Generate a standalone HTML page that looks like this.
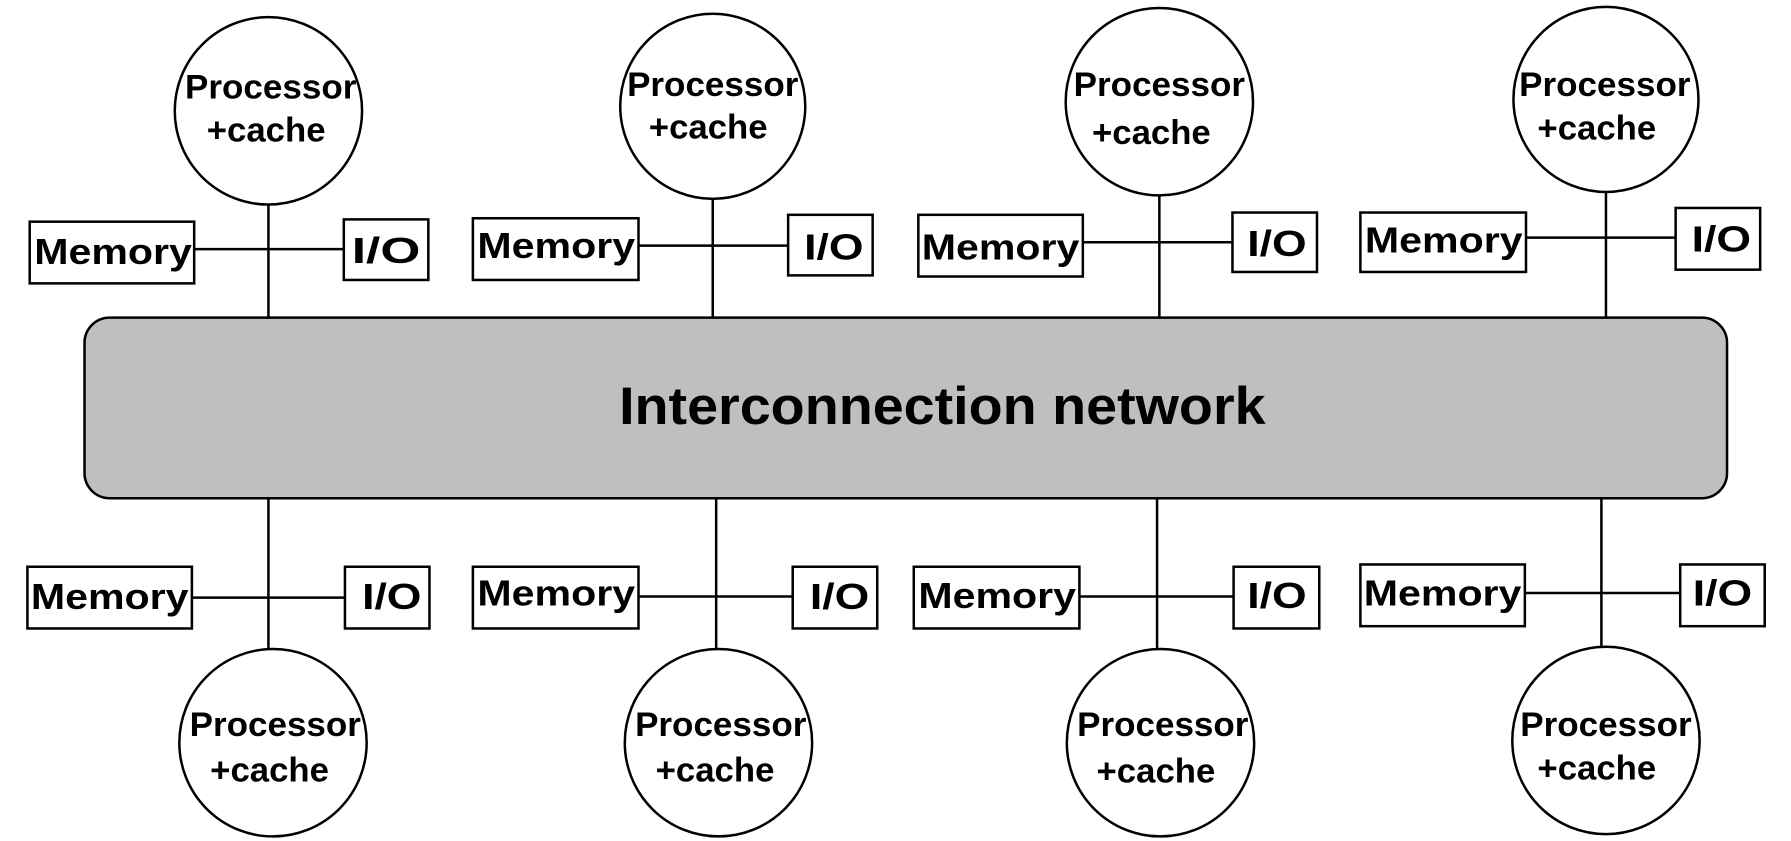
<!DOCTYPE html>
<html><head><meta charset="utf-8">
<style>
html,body{margin:0;padding:0;background:#fff;}
svg{display:block;}
text{font-family:"Liberation Sans",Arial,sans-serif;font-weight:bold;fill:#000;}
</style></head>
<body>
<svg width="1791" height="841" viewBox="0 0 1568 736" preserveAspectRatio="none" xmlns="http://www.w3.org/2000/svg">
<g stroke="#000" stroke-width="2.2" fill="none">
<!-- top verticals -->
<line x1="235" y1="179" x2="235" y2="278"/>
<line x1="624" y1="174" x2="624" y2="278"/>
<line x1="1015" y1="171" x2="1015" y2="278"/>
<line x1="1406" y1="168" x2="1406" y2="278"/>
<!-- top horizontals -->
<line x1="170" y1="218" x2="301" y2="218"/>
<line x1="559" y1="215" x2="690" y2="215"/>
<line x1="948" y1="212" x2="1079" y2="212"/>
<line x1="1336" y1="208" x2="1467" y2="208"/>
<!-- bottom verticals -->
<line x1="235" y1="436" x2="235" y2="568"/>
<line x1="627" y1="436" x2="627" y2="568"/>
<line x1="1013" y1="436" x2="1013" y2="568"/>
<line x1="1402" y1="436" x2="1402" y2="566"/>
<!-- bottom horizontals -->
<line x1="168" y1="523" x2="302" y2="523"/>
<line x1="559" y1="522" x2="694" y2="522"/>
<line x1="945" y1="522" x2="1080" y2="522"/>
<line x1="1335" y1="519" x2="1471" y2="519"/>
</g>
<rect x="74" y="278" width="1438" height="158" rx="22" ry="22" fill="#bfbfbf" stroke="#000" stroke-width="2.2"/>
<text x="825" y="371" font-size="46" text-anchor="middle" textLength="566" lengthAdjust="spacingAndGlyphs">Interconnection network</text>

<g fill="#fff" stroke="#000" stroke-width="2.2">
<circle cx="235" cy="97" r="82"/>
<circle cx="624" cy="93" r="81"/>
<circle cx="1015" cy="89" r="82"/>
<circle cx="1406" cy="87" r="81"/>
<circle cx="239" cy="650" r="82"/>
<circle cx="629" cy="650" r="82"/>
<circle cx="1016" cy="650" r="82"/>
<circle cx="1406" cy="648" r="82"/>
<rect x="26" y="194" width="144" height="54"/>
<rect x="301" y="192" width="74" height="53"/>
<rect x="414" y="191" width="145" height="54"/>
<rect x="690" y="188" width="74" height="53"/>
<rect x="804" y="188" width="144" height="54"/>
<rect x="1079" y="186" width="74" height="52"/>
<rect x="1191" y="186" width="145" height="52"/>
<rect x="1467" y="182" width="74" height="54"/>
<rect x="24" y="496" width="144" height="54"/>
<rect x="302" y="496" width="74" height="54"/>
<rect x="414" y="496" width="145" height="54"/>
<rect x="694" y="496" width="74" height="54"/>
<rect x="800" y="496" width="145" height="54"/>
<rect x="1080" y="496" width="75" height="54"/>
<rect x="1191" y="494" width="144" height="54"/>
<rect x="1471" y="494" width="74" height="54"/>
</g>

<g font-size="30" text-anchor="middle">
<!-- top processors -->
<text x="237" y="86" textLength="150" lengthAdjust="spacingAndGlyphs">Processor</text>
<text x="233" y="124" textLength="104" lengthAdjust="spacingAndGlyphs">+cache</text>
<text x="624" y="84" textLength="150" lengthAdjust="spacingAndGlyphs">Processor</text>
<text x="620" y="121" textLength="104" lengthAdjust="spacingAndGlyphs">+cache</text>
<text x="1015" y="84" textLength="150" lengthAdjust="spacingAndGlyphs">Processor</text>
<text x="1008" y="126" textLength="104" lengthAdjust="spacingAndGlyphs">+cache</text>
<text x="1405" y="84" textLength="150" lengthAdjust="spacingAndGlyphs">Processor</text>
<text x="1398" y="122" textLength="104" lengthAdjust="spacingAndGlyphs">+cache</text>
<!-- bottom processors -->
<text x="241" y="644" textLength="150" lengthAdjust="spacingAndGlyphs">Processor</text>
<text x="236" y="684" textLength="104" lengthAdjust="spacingAndGlyphs">+cache</text>
<text x="631" y="644" textLength="150" lengthAdjust="spacingAndGlyphs">Processor</text>
<text x="626" y="684" textLength="104" lengthAdjust="spacingAndGlyphs">+cache</text>
<text x="1018" y="644" textLength="150" lengthAdjust="spacingAndGlyphs">Processor</text>
<text x="1012" y="685" textLength="104" lengthAdjust="spacingAndGlyphs">+cache</text>
<text x="1406" y="644" textLength="150" lengthAdjust="spacingAndGlyphs">Processor</text>
<text x="1398" y="682" textLength="104" lengthAdjust="spacingAndGlyphs">+cache</text>
</g>

<g font-size="32" text-anchor="middle">
<text x="99" y="231" textLength="138" lengthAdjust="spacingAndGlyphs">Memory</text>
<text x="338" y="230" textLength="60" lengthAdjust="spacingAndGlyphs">I/O</text>
<text x="487" y="226" textLength="138" lengthAdjust="spacingAndGlyphs">Memory</text>
<text x="730" y="227" textLength="52" lengthAdjust="spacingAndGlyphs">I/O</text>
<text x="876" y="227" textLength="138" lengthAdjust="spacingAndGlyphs">Memory</text>
<text x="1118" y="224" textLength="52" lengthAdjust="spacingAndGlyphs">I/O</text>
<text x="1264" y="221" textLength="138" lengthAdjust="spacingAndGlyphs">Memory</text>
<text x="1507" y="220" textLength="52" lengthAdjust="spacingAndGlyphs">I/O</text>
<text x="96" y="533" textLength="138" lengthAdjust="spacingAndGlyphs">Memory</text>
<text x="343" y="533" textLength="52" lengthAdjust="spacingAndGlyphs">I/O</text>
<text x="487" y="530" textLength="138" lengthAdjust="spacingAndGlyphs">Memory</text>
<text x="735" y="533" textLength="52" lengthAdjust="spacingAndGlyphs">I/O</text>
<text x="873" y="532" textLength="138" lengthAdjust="spacingAndGlyphs">Memory</text>
<text x="1118" y="532" textLength="52" lengthAdjust="spacingAndGlyphs">I/O</text>
<text x="1263" y="530" textLength="138" lengthAdjust="spacingAndGlyphs">Memory</text>
<text x="1508" y="530" textLength="52" lengthAdjust="spacingAndGlyphs">I/O</text>
</g>
</svg>
</body></html>
